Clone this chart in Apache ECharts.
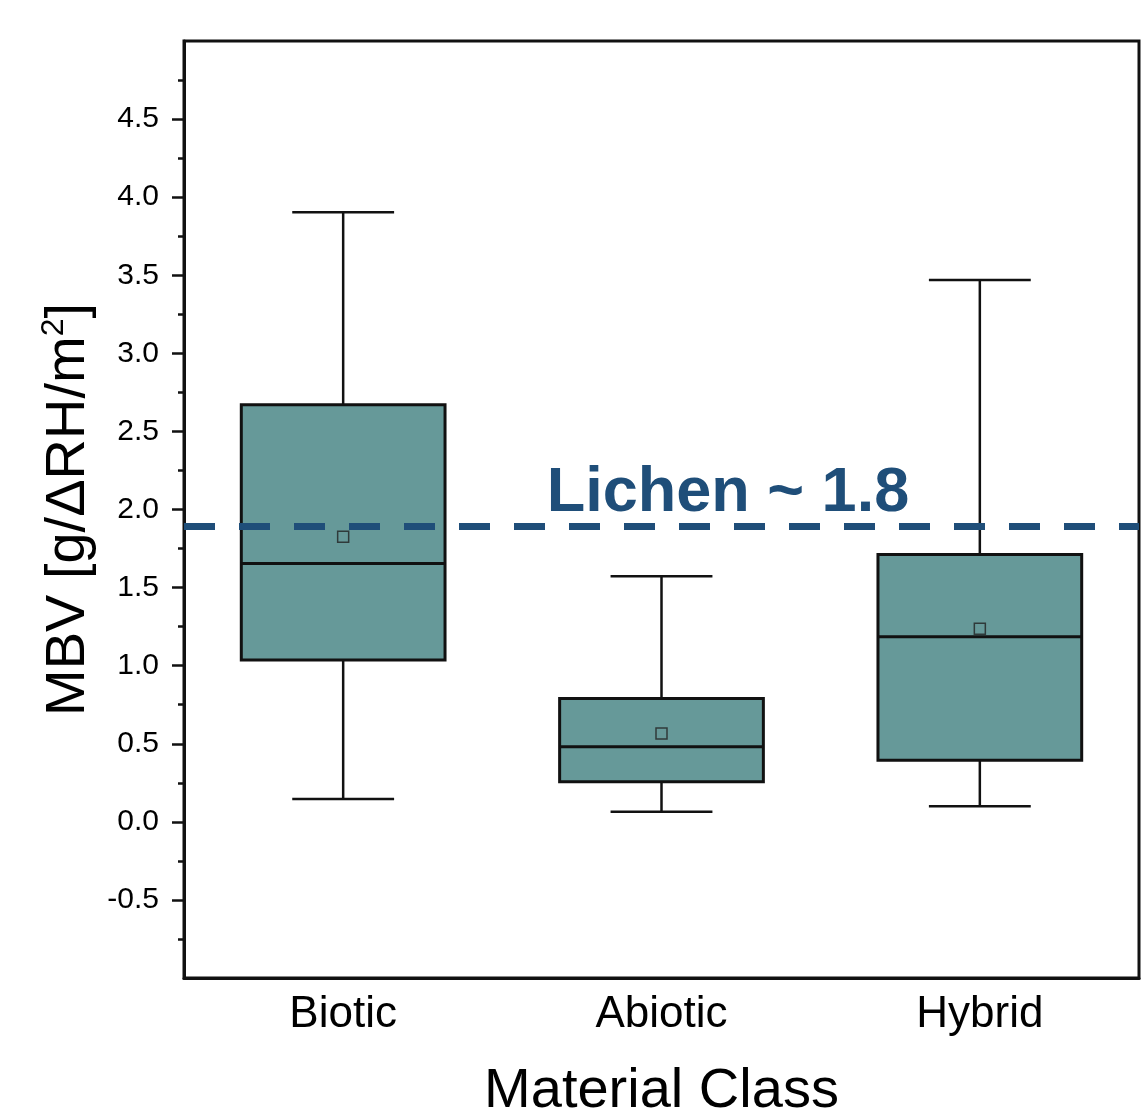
<!DOCTYPE html>
<html>
<head>
<meta charset="utf-8">
<script src="https://cdn.jsdelivr.net/npm/echarts@6/dist/echarts.min.js"></script>
<style>html,body{margin:0;padding:0;background:#fff}#c{width:1142px;height:1116px}</style>
</head>
<body>
<div id="c"></div>
<script>
const categories = ['Biotic', 'Abiotic', 'Hybrid'];
const whiskerLow = [0.147, 0.064, 0.10];
const q1 = [1.036, 0.256, 0.395];
const median = [1.655, 0.480, 1.185];
const q3 = [2.671, 0.790, 1.712];
const whiskerHigh = [3.903, 1.573, 3.469];
const means = [1.825, 0.566, 1.236];
const lichenValue = 1.89;
const lichenLabel = 'Lichen ~ 1.8';
const yMin = -1, yMax = 5;
const majorTicks = [-0.5, 0, 0.5, 1, 1.5, 2, 2.5, 3, 3.5, 4, 4.5];
const minorTicks = [-0.75, -0.25, 0.25, 0.75, 1.25, 1.75, 2.25, 2.75, 3.25, 3.75, 4.25, 4.75];

const FONT = '"Liberation Sans", Arial, sans-serif';
const boxData = categories.map((c, i) => [i, whiskerLow[i], q1[i], median[i], q3[i], whiskerHigh[i]]);
const meanData = categories.map((c, i) => [i, means[i]]);

const chart = echarts.init(document.getElementById('c'));
chart.setOption({
  animation: false,
  backgroundColor: '#fff',
  grid: { left: 184, right: 3, top: 41, bottom: 138, show: true, borderColor: '#111', borderWidth: 3, backgroundColor: 'transparent', outerBoundsMode: 'none', containLabel: false },
  xAxis: {
    type: 'category',
    data: categories,
    boundaryGap: true,
    axisLine: { onZero: false, lineStyle: { color: '#111', width: 3 } },
    axisTick: { show: false },
    axisLabel: { fontSize: 44, color: '#000', fontFamily: FONT, margin: 15 },
    name: 'Material Class',
    nameLocation: 'middle',
    nameGap: 86,
    nameTextStyle: { fontSize: 56, color: '#000', fontFamily: FONT }
  },
  yAxis: [
    {
      type: 'value',
      min: yMin, max: yMax,
      splitLine: { show: false },
      axisLine: { show: true, onZero: false, lineStyle: { color: '#111', width: 3 } },
      axisTick: { show: true, inside: false, length: 12, customValues: majorTicks, lineStyle: { color: '#111', width: 2.5 } },
      axisLabel: {
        fontSize: 30, color: '#000', fontFamily: FONT, margin: 25,
        customValues: majorTicks,
        formatter: v => v.toFixed(1)
      },
      name: 'MBV [g/ΔRH/m{sup|2}]',
      nameLocation: 'middle',
      nameGap: 82,
      nameTextStyle: {
        fontSize: 56, color: '#000', fontFamily: FONT,
        rich: { sup: { fontSize: 32, color: '#000', fontFamily: FONT, padding: [0, 0, 28, 0] } }
      }
    },
    {
      type: 'value',
      position: 'left',
      min: yMin, max: yMax,
      splitLine: { show: false },
      axisLine: { show: false },
      axisTick: { show: true, inside: false, length: 6, customValues: minorTicks, lineStyle: { color: '#111', width: 2.5 } },
      axisLabel: { show: false }
    }
  ],
  series: [
    {
      type: 'custom',
      data: boxData,
      encode: { x: 0, y: [1, 2, 3, 4, 5] },
      z: 2,
      renderItem: function (params, api) {
        const x = api.value(0);
        const pMin = api.coord([x, api.value(1)]);
        const pQ1 = api.coord([x, api.value(2)]);
        const pMed = api.coord([x, api.value(3)]);
        const pQ3 = api.coord([x, api.value(4)]);
        const pMax = api.coord([x, api.value(5)]);
        const bw = api.size([1, 0])[0] * 0.64;
        const cw = bw * 0.5;
        const cx = pMed[0];
        const stroke = { stroke: '#111', lineWidth: 2.5 };
        return {
          type: 'group',
          children: [
            { type: 'line', shape: { x1: cx, y1: pMax[1], x2: cx, y2: pQ3[1] }, style: stroke },
            { type: 'line', shape: { x1: cx, y1: pQ1[1], x2: cx, y2: pMin[1] }, style: stroke },
            { type: 'line', shape: { x1: cx - cw / 2, y1: pMax[1], x2: cx + cw / 2, y2: pMax[1] }, style: stroke },
            { type: 'line', shape: { x1: cx - cw / 2, y1: pMin[1], x2: cx + cw / 2, y2: pMin[1] }, style: stroke },
            { type: 'rect', shape: { x: cx - bw / 2, y: pQ3[1], width: bw, height: pQ1[1] - pQ3[1] }, style: { fill: '#669999', stroke: '#111', lineWidth: 3 } },
            { type: 'line', shape: { x1: cx - bw / 2, y1: pMed[1], x2: cx + bw / 2, y2: pMed[1] }, style: { stroke: '#111', lineWidth: 3 } }
          ]
        };
      }
    },
    {
      type: 'scatter',
      data: meanData,
      symbol: 'rect',
      symbolSize: 11,
      z: 3,
      itemStyle: { color: 'rgba(0,0,0,0)', borderColor: '#222', borderWidth: 1.5 },
      markLine: {
        silent: true,
        symbol: ['none', 'none'],
        z: 5,
        label: { show: false },
        lineStyle: { color: '#1f4e79', width: 7, type: [31, 24] },
        data: [{ yAxis: lichenValue }]
      }
    }
  ],
  graphic: [
    {
      type: 'text',
      x: 728, y: 494, z: 10,
      style: { text: lichenLabel, font: 'bold 63px ' + FONT, fill: '#1f4e79', textAlign: 'center', textVerticalAlign: 'middle' }
    }
  ]
});
</script>
</body>
</html>
